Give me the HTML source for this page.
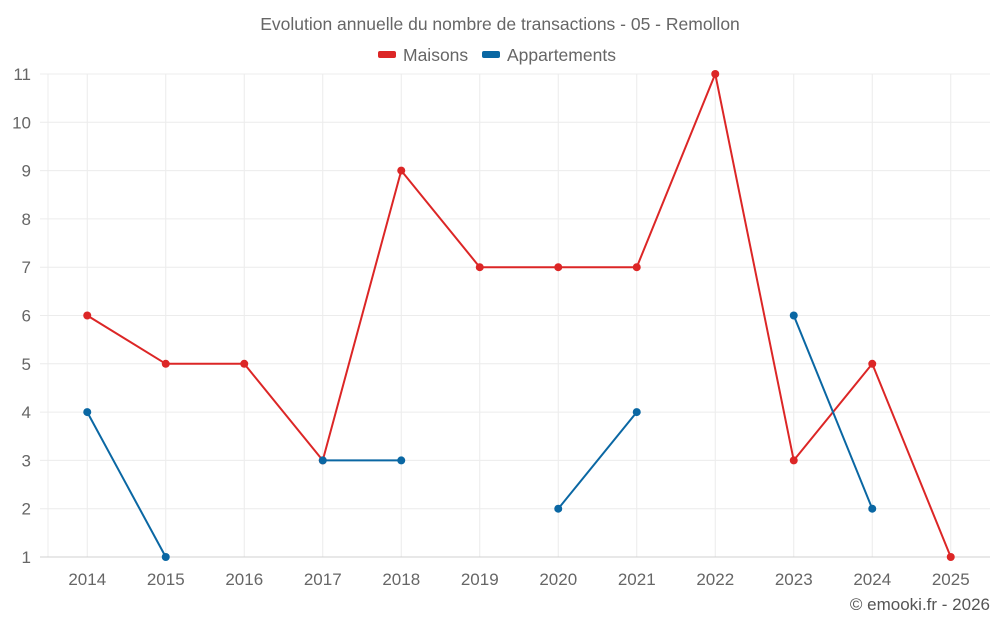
<!DOCTYPE html>
<html><head><meta charset="utf-8"><style>
html,body{margin:0;padding:0;background:#fff;}
svg{display:block;font-family:"Liberation Sans",sans-serif;}
</style></head><body>
<svg id="chart" width="1000" height="625">
<text x="500" y="30" text-anchor="middle" font-size="17.5" fill="#666">Evolution annuelle du nombre de transactions - 05 - Remollon</text>
<g>
<g><rect x="378" y="51" width="18" height="7" rx="2" fill="#dc2626"/><text x="403" y="61" font-size="17.5" fill="#666">Maisons</text></g>
<g><rect x="482" y="51" width="18" height="7" rx="2" fill="#0a67a3"/><text x="507" y="61" font-size="17.5" fill="#666">Appartements</text></g>
</g>
<g id="grid"></g><g id="axes"></g><g id="series"></g>
<text x="990" y="610" text-anchor="end" font-size="17" fill="#555">© emooki.fr - 2026</text>
</svg>
<script>
const categories=["2014","2015","2016","2017","2018","2019","2020","2021","2022","2023","2024","2025"];
const maisons=[6,5,5,3,9,7,7,7,11,3,5,1];
const appartements=[4,1,null,3,3,null,2,4,null,6,2,null];
const yTicks=[1,2,3,4,5,6,7,8,9,10,11];
const NS="http://www.w3.org/2000/svg";
const L=48,R=990,T=74,B=557,yMin=1,yMax=11;
const band=(R-L)/categories.length;
const xs=i=>L+band*(i+0.5);
const ys=v=>B-(v-yMin)/(yMax-yMin)*(B-T);
function mk(tag,attrs,parent){const e=document.createElementNS(NS,tag);for(const k in attrs)e.setAttribute(k,attrs[k]);parent.appendChild(e);return e;}
const grid=document.getElementById('grid'),axes=document.getElementById('axes'),ser=document.getElementById('series');
const lb=mk('line',{x1:L,x2:L,y1:T,y2:B,stroke:'#ececec','stroke-width':1},grid);


categories.forEach((c,i)=>{
 const l=mk('line',{x1:xs(i),x2:xs(i),y1:T,y2:B,stroke:'#ececec','stroke-width':1},grid);
 
 
});
yTicks.forEach(v=>{
 const l=mk('line',{x1:40,x2:R,y1:ys(v),y2:ys(v),stroke:v===yMin?'#d0d0d0':'#ececec','stroke-width':1},grid);
 
 
 const t=mk('text',{x:31,y:ys(v)+6,'text-anchor':'end','font-size':17,fill:'#666'},axes);
 t.textContent=v;
 
 
});
categories.forEach((c,i)=>{
 const t=mk('text',{x:xs(i),y:585,'text-anchor':'middle','font-size':17,fill:'#666'},axes);
 t.textContent=c;
 
 
});
function draw(data,color,name){
 let seg=[];const segs=[];
 data.forEach((v,i)=>{if(v==null){if(seg.length)segs.push(seg);seg=[];}else seg.push([xs(i),ys(v)]);});
 if(seg.length)segs.push(seg);
 segs.forEach(s=>{
  const p=mk('polyline',{points:s.map(q=>q.join(',')).join(' '),fill:'none',stroke:color,'stroke-width':2},ser);
  
  
 });
 data.forEach((v,i)=>{if(v==null)return;
  const c=mk('circle',{cx:xs(i),cy:ys(v),r:4,fill:color},ser);
  
  
 });
}
draw(maisons,'#dc2626','maisons');
draw(appartements,'#0a67a3','appartements');
</script>
</body></html>
